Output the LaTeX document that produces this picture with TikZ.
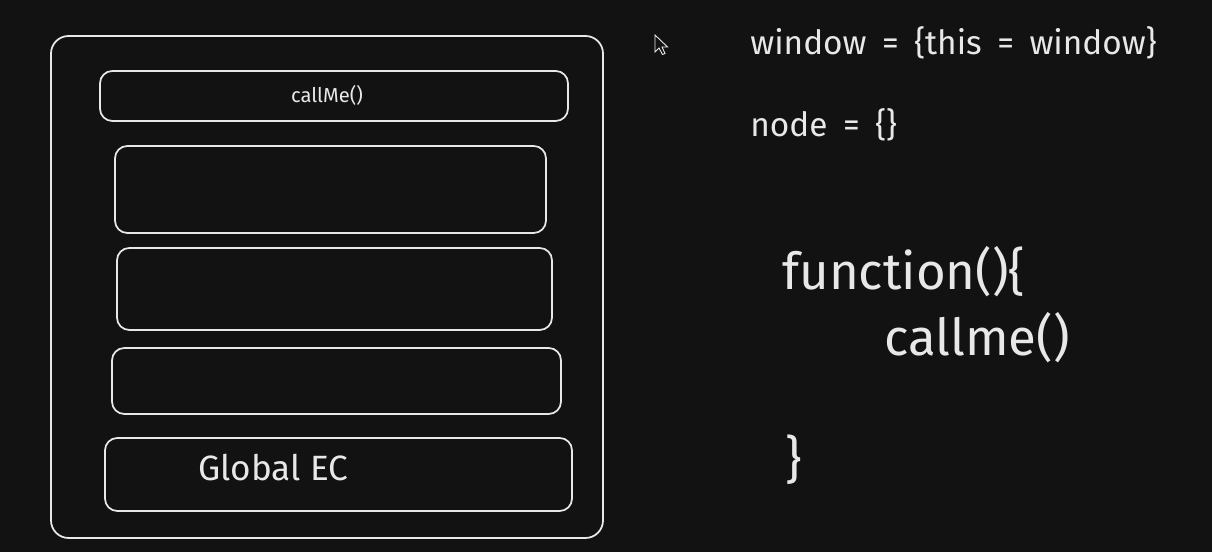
\documentclass[tikz,border=0pt]{standalone}
\usepackage{fontspec}
\setmainfont{Fira Sans}
\usepackage{xcolor}
\definecolor{boardbg}{RGB}{18, 18, 18}
\definecolor{chalk}{RGB}{232, 232, 232}
\usepackage{tikz}
\usetikzlibrary{positioning}

\newcommand{\eqgap}{\hspace{0.2em}}

\begin{document}
\begin{tikzpicture}

  \tikzstyle{ecbox} = [
    rounded corners=7pt,
    draw=chalk, line width=1pt,
    inner sep=0pt
  ]
  \tikzstyle{codeline} = [
    anchor=west, inner sep=0pt,
    text=chalk
  ]

  \fill[boardbg] (0,0) rectangle (24.24,11.04);
  \useasboundingbox (0,0) rectangle (24.24,11.04);

  % call stack
  \node[ecbox, rounded corners=10pt, minimum width=11.04cm, minimum height=10.04cm] (stack) at (6.54,5.30) {};

  \node[ecbox, minimum width=9.36cm, minimum height=1.00cm] (ec1) at (6.68,9.12) {};
  \node[ecbox, minimum width=8.62cm, minimum height=1.74cm] (ec2) at (6.61,7.25) {};
  \node[ecbox, minimum width=8.70cm, minimum height=1.64cm] (ec3) at (6.69,5.26) {};
  \node[ecbox, minimum width=8.98cm, minimum height=1.32cm] (ec4) at (6.73,3.42) {};
  \node[ecbox, minimum width=9.34cm, minimum height=1.46cm] (ecglobal) at (6.77,1.55) {};

  \node[text=chalk, font=\fontsize{11.5}{13}\selectfont] (callmelabel) at (6.54,9.14) {callMe()};
  \node[codeline, font=\fontsize{20}{24}\selectfont] (globallabel) at (3.96,1.68) {Global EC};

  % cursor
  \filldraw[fill=boardbg, draw=chalk!80, line width=0.5pt]
    (13.10,10.34) -- ++(0,-0.34) -- ++(0.08,0.08) -- ++(0.07,-0.13)
    -- ++(0.05,0.02) -- ++(-0.06,0.13) -- ++(0.11,0) -- cycle;

  % code
  \node[codeline, font=\fontsize{19}{22}\selectfont] (windowline) at (15.00,10.18)
    {window\eqgap{} =\eqgap{} \{this\eqgap{} =\eqgap{} window\}};
  \node[codeline, font=\fontsize{19}{22}\selectfont] (nodeline) at (15.00,8.54)
    {node\eqgap{} =\eqgap{} \{\}};

  \node[codeline, font=\fontsize{29}{33}\selectfont] (fnopen) at (15.64,5.60) {function()\{};
  \node[codeline, font=\fontsize{29}{33}\selectfont] (fncall) at (17.68,4.28) {callme()};
  \node[codeline, font=\fontsize{29}{33}\selectfont] (fnclose) at (15.70,1.84) {\}};

\end{tikzpicture}
\end{document}
